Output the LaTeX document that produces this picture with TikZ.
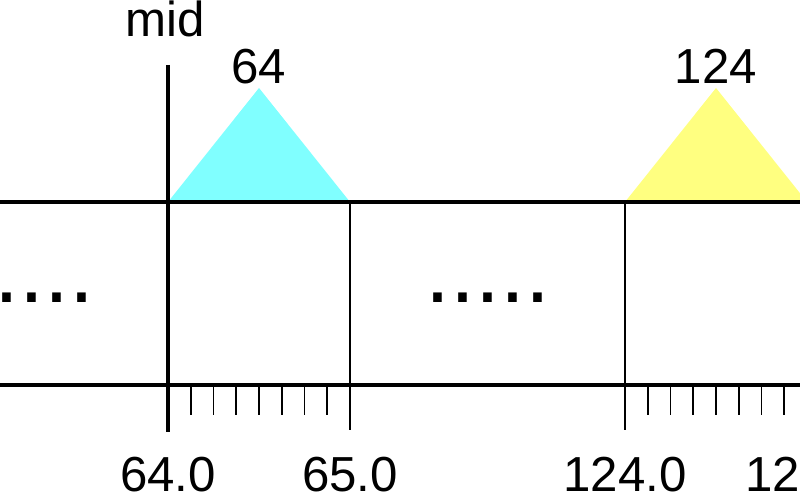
\documentclass[tikz,border=0pt]{standalone}
\usepackage{fontspec}
\setmainfont{Liberation Sans}
\usepackage{xcolor}
\usepackage{tikz}
\usetikzlibrary{positioning, calc}
\definecolor{peakcyan}{HTML}{80FFFF}
\definecolor{peakyellow}{HTML}{FFFF80}
\tikzset{
  axisline/.style={line width=2.1pt, black},
  gridline/.style={line width=1.1pt, black},
  minortick/.style={line width=1.1pt, black},
  ticklabel/.style={
    font=\fontsize{28}{30}\selectfont, anchor=base, inner sep=0pt
  },
  peaklabel/.style={
    font=\fontsize{28}{30}\selectfont, anchor=base, inner sep=0pt
  },
  dotsrow/.style={
    font=\fontsize{51}{51}\selectfont, anchor=base west, inner sep=0pt
  },
}

\begin{document}
\begin{tikzpicture}
  \useasboundingbox (0,0) rectangle (16,10);
  \clip (0,0) rectangle (16,10);

  % === Peaks ===
  \coordinate (apexA) at (5.18, 8.24);
  \coordinate (apexB) at (14.32, 8.24);
  \fill[peakcyan] (3.36, 5.96) -- (apexA) -- (7.0, 5.96) -- cycle;
  \fill[peakyellow] (12.5, 5.96) -- (apexB) -- (16.14, 5.96) -- cycle;
  \node[peaklabel] (peakA) at (5.18, 8.32) {64};
  \node[peaklabel] (peakB) at (14.32, 8.32) {124};

  % === Band ===
  \draw[axisline] (0, 5.96) -- (16, 5.96);
  \draw[axisline] (0, 2.3) -- (16, 2.3);

  % === Mid marker ===
  \draw[axisline] (3.36, 8.7) -- (3.36, 1.36);
  \node[ticklabel] (midlabel) at (3.3, 9.26) {mid};

  % === Major ticks ===
  \foreach \x in {7.0, 12.5, 16.14}
    \draw[gridline] (\x, 5.96) -- (\x, 1.4);

  % === Minor ticks ===
  \foreach \x in {3.36, 12.5}
    \foreach \k in {1,...,7}
      \draw[minortick] ({\x + \k*0.455}, 2.3) -- ++(0, -0.6);

  % === Tick labels ===
  \node[ticklabel] (lab64) at (3.36, 0.16) {64.0};
  \node[ticklabel] (lab65) at (7.0, 0.16) {65.0};
  \node[ticklabel] (lab124) at (12.5, 0.16) {124.0};
  \node[ticklabel] (lab125) at (16.14, 0.16) {125.0};

  % === Elided range ===
  \node[dotsrow] (dotsL) at (-0.12, 3.95) {....};
  \node[dotsrow] (dotsM) at (8.50, 3.95) {.....};

\end{tikzpicture}
\end{document}
